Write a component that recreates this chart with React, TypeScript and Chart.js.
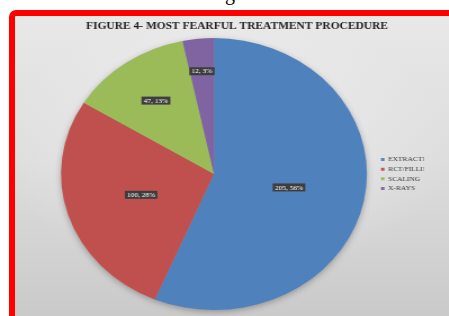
import React, { useEffect, useRef } from "react";
import { Chart, registerables } from "chart.js";

Chart.register(...registerables);

const categories = ["EXTRACTION", "RCT/FILLING", "SCALING", "X-RAYS"];
const counts = [205, 100, 47, 12];
const percents = [56, 28, 13, 3];
const sliceColors = ["#4F81BD", "#C0504D", "#9BBB59", "#8064A2"];
const labelRadius = [0.5, 0.5, 0.66, 0.76];
const titleText = "FIGURE 4- MOST FEARFUL TREATMENT PROCEDURE";

const SX = 1.125;
const CW = 420;
const CH = 316;

const pieShadow = {
  id: "pieShadow",
  beforeDatasetsDraw(chart: any) {
    const arc = chart.getDatasetMeta(0).data[0];
    if (!arc) return;
    const { x, y, outerRadius } = arc.getProps(["x", "y", "outerRadius"], true);
    const ctx = chart.ctx;
    ctx.save();
    ctx.shadowColor = "rgba(0,0,0,0.35)";
    ctx.shadowBlur = 7;
    ctx.shadowOffsetY = 2;
    ctx.beginPath();
    ctx.arc(x, y, outerRadius - 1, 0, Math.PI * 2);
    ctx.fillStyle = "#9a9a9a";
    ctx.fill();
    ctx.restore();
  },
};

const sliceLabels = {
  id: "sliceLabels",
  afterDatasetsDraw(chart: any) {
    const ctx = chart.ctx;
    const meta = chart.getDatasetMeta(0);
    ctx.save();
    ctx.font = '6.5px "Liberation Serif"';
    ctx.textAlign = "center";
    ctx.textBaseline = "middle";
    meta.data.forEach((arc: any, i: number) => {
      const { x, y, startAngle, endAngle, outerRadius } = arc.getProps(
        ["x", "y", "startAngle", "endAngle", "outerRadius"],
        true
      );
      const mid = (startAngle + endAngle) / 2;
      const r = outerRadius * labelRadius[i];
      const px = x + Math.cos(mid) * r;
      const py = y + Math.sin(mid) * r;
      const text = `${counts[i]}, ${percents[i]}%`;
      const w = ctx.measureText(text).width + 4;
      const h = 8;
      ctx.fillStyle = "#3d3d3d";
      ctx.fillRect(px - w / 2, py - h / 2, w, h);
      ctx.fillStyle = "#ffffff";
      ctx.fillText(text, px, py + 0.5);
    });
    ctx.restore();
  },
};

export default function App() {
  const ref = useRef<HTMLCanvasElement>(null);

  useEffect(() => {
    if (!ref.current) return;
    const chart = new Chart(ref.current, {
      type: "pie",
      data: {
        labels: categories,
        datasets: [
          {
            data: counts,
            backgroundColor: sliceColors,
            borderWidth: 0,
          },
        ],
      },
      options: {
        responsive: false,
        animation: false,
        devicePixelRatio: 1,
        layout: { padding: { left: 44.7, right: 43.4, top: 0, bottom: 6 } },
        plugins: {
          tooltip: { enabled: false },
          title: {
            display: true,
            text: titleText,
            color: "#1e1e1e",
            font: { family: '"Liberation Serif"', size: 10.2, weight: "bold", lineHeight: 1.2 },
            padding: { top: 19.9, bottom: 5.9 },
          },
          legend: {
            display: true,
            position: "right",
            fullSize: false,
            maxWidth: 40.9,
            labels: {
              boxWidth: 3,
              boxHeight: 3,
              padding: 3,
              color: "#3a3a3a",
              font: { family: '"Liberation Serif"', size: 6.6 },
            },
          },
        },
      },
      plugins: [pieShadow, sliceLabels],
    });
    return () => chart.destroy();
  }, []);

  return (
    <div
      style={{
        position: "absolute",
        left: 0,
        top: 0,
        width: 449,
        height: 316,
        overflow: "hidden",
        background: "#ffffff",
      }}
    >
      <div
        style={{
          position: "absolute",
          left: 225,
          top: -16.75,
          fontFamily: '"Liberation Serif"',
          fontSize: 20,
          lineHeight: "20px",
          color: "#000",
        }}
      >
        g
      </div>
      <div
        style={{
          position: "absolute",
          left: 9,
          top: 10,
          width: 470,
          height: 330,
          boxSizing: "border-box",
          borderLeft: "6px solid #ff0000",
          borderTop: "6px solid #ff0000",
          borderTopLeftRadius: 7,
          background:
            "radial-gradient(ellipse 70% 60% at 45% 40%, rgba(245,245,245,0.6), rgba(245,245,245,0) 70%), linear-gradient(to bottom, #e8e8e8 0%, #dddddd 45%, #c7c7c7 100%)",
        }}
      />
      <div
        style={{
          position: "absolute",
          left: 0,
          top: 0,
          transform: `scaleX(${SX})`,
          transformOrigin: "0 0",
        }}
      >
        <canvas ref={ref} width={CW} height={CH} style={{ width: CW, height: CH }} />
      </div>
    </div>
  );
}
